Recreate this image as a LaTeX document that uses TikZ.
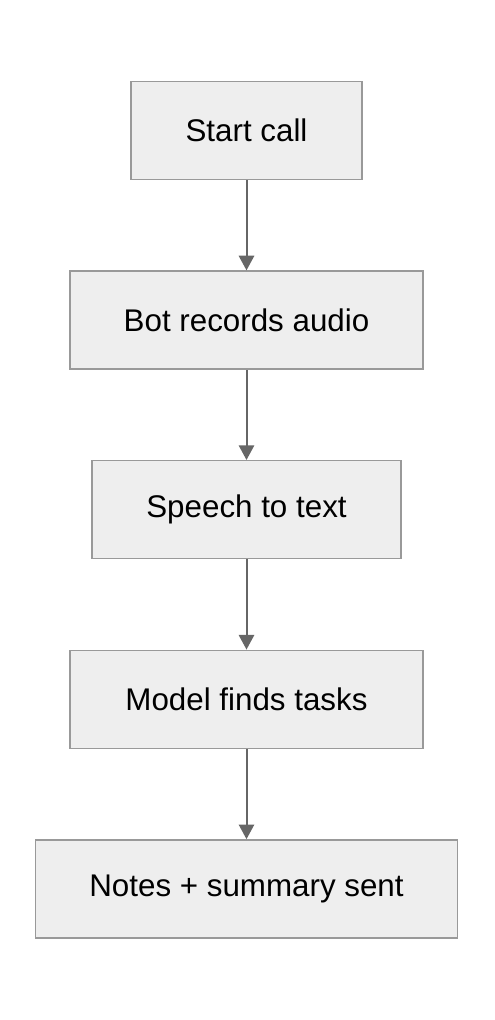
\documentclass[tikz,border=0pt]{standalone}
\usepackage{fontspec}
\setmainfont{Liberation Sans}
\usetikzlibrary{positioning, arrows.meta}
\definecolor{boxfill}{HTML}{EEEEEE}
\definecolor{boxline}{HTML}{999999}
\definecolor{arrowline}{HTML}{666666}
\begin{document}
\begin{tikzpicture}[x=0.75pt, y=-0.75pt,
                    >={Triangle[length=11pt,width=11.5pt]},
                    node distance=142.2pt,
                    stepbox/.style={draw=boxline, fill=boxfill, line width=1.1pt,
                                    minimum height=73.5pt, font=\fontsize{23.5}{27}\selectfont},
                    flow/.style={->, draw=arrowline, fill=arrowline, line width=1.5pt}]

    \useasboundingbox (0,0) rectangle (494,1020);

    \node[stepbox, minimum width=173.25pt] (call) at (246.5,130.5) {Start call};
    \node[stepbox, minimum width=264.75pt] (record) [below of=call] {Bot records audio};
    \node[stepbox, minimum width=231.75pt] (stt) [below of=record] {Speech to text};
    \node[stepbox, minimum width=264.75pt] (tasks) [below of=stt] {Model finds tasks};
    \node[stepbox, minimum width=316.5pt] (notes) [below of=tasks] {Notes + summary sent};

    \path[flow]
    (call) edge (record)
    (record) edge (stt)
    (stt) edge (tasks)
    (tasks) edge (notes);
\end{tikzpicture}
\end{document}
